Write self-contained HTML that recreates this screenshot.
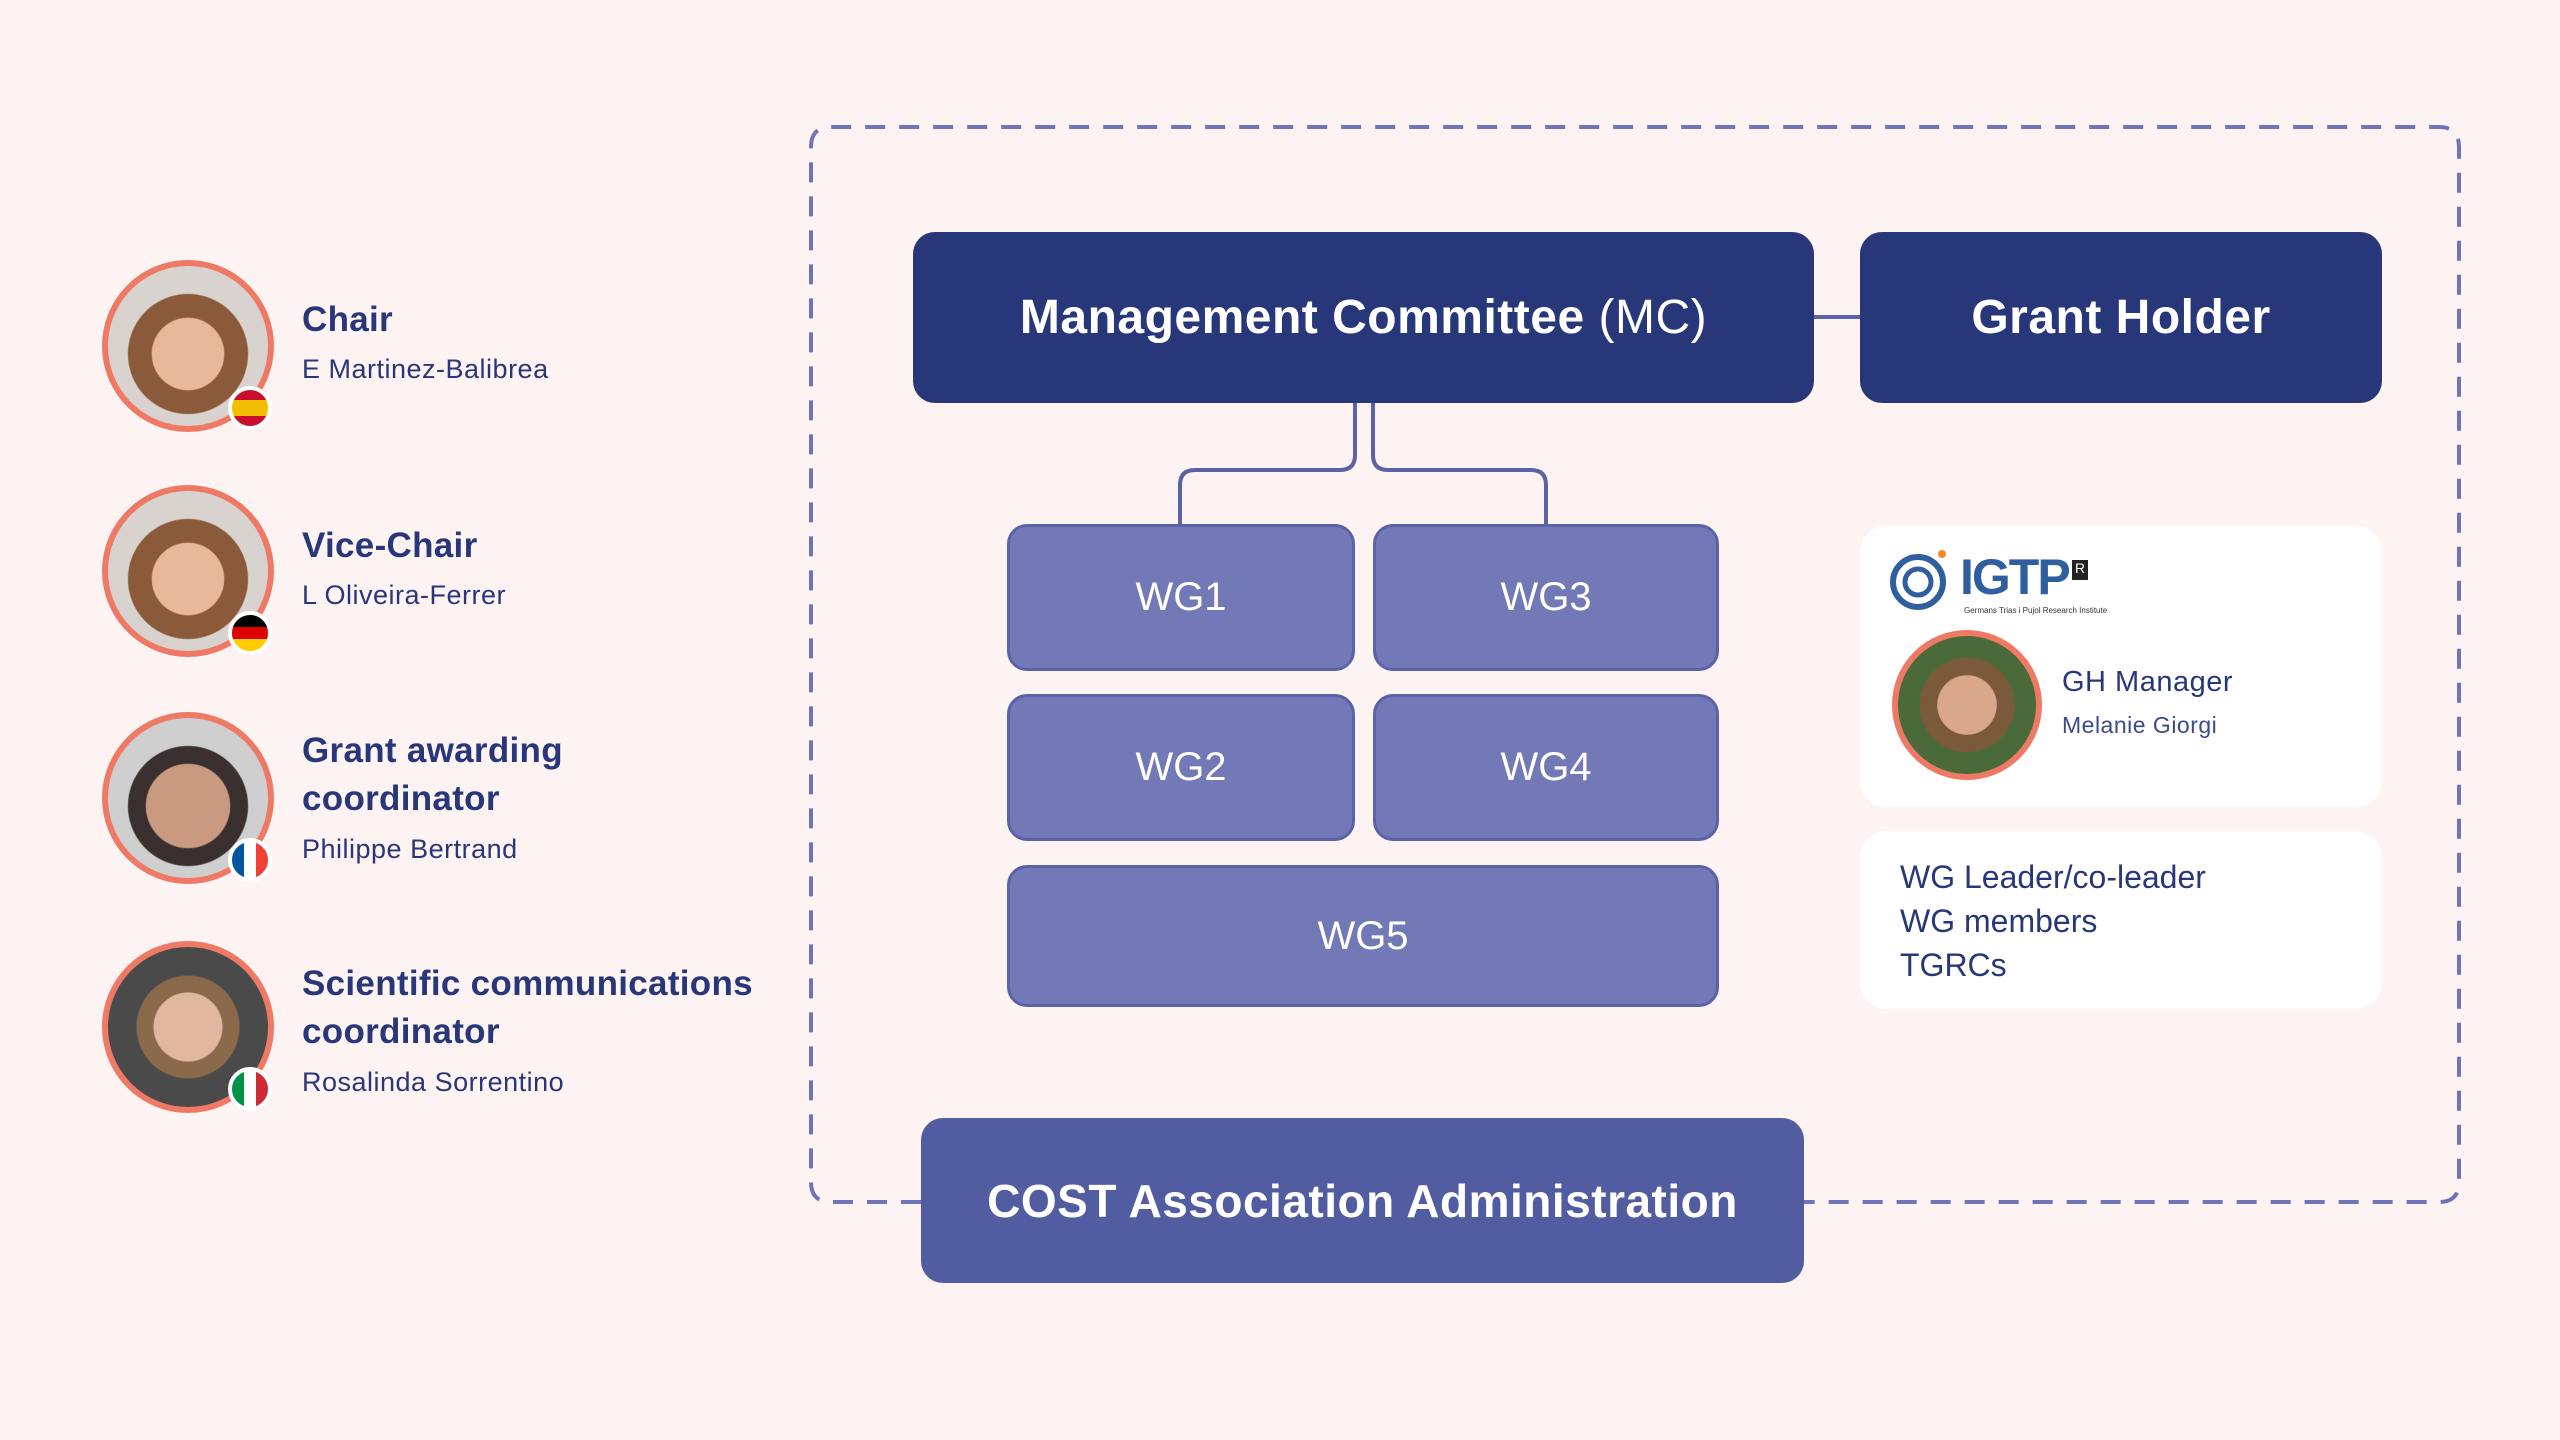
<!DOCTYPE html>
<html><head><meta charset="utf-8"><style>
*{margin:0;padding:0;box-sizing:border-box}
body{width:2560px;height:1440px;background:#fdf3f2;position:relative;overflow:hidden;font-family:"Liberation Sans",sans-serif;color:#283779}
.a{position:absolute}
.box{position:absolute;display:flex;align-items:center;justify-content:center;color:#fff;border-radius:22px}
.mc{background:#283779;font-size:48px;font-weight:bold;letter-spacing:.5px}
.wg{background:#7378b6;border:3px solid #5a62a8;font-size:40px;border-radius:20px}
.card{position:absolute;background:#fff;border-radius:26px}
.av{position:absolute;width:172px;height:172px;border-radius:50%;border:6px solid #ee7a66;overflow:hidden;background:radial-gradient(circle at 50% 55%,#e8b89a 0 30%,#8a5a3a 31% 50%,#d9d3cf 51%)}
.flag{position:absolute;width:44px;height:44px;border-radius:50%;border:4px solid #fff;overflow:hidden}
.t1{position:absolute;font-size:35px;font-weight:bold;line-height:48px;letter-spacing:.3px}
.t2{position:absolute;font-size:27px;letter-spacing:.5px}
</style></head><body>
<svg class="a" style="left:0;top:0" width="2560" height="1440">
<path d="M921 1202 H831 Q811 1202 811 1182 V147 Q811 127 831 127 H2439 Q2459 127 2459 147 V1182 Q2459 1202 2439 1202 H1804" fill="none" stroke="#6f74b8" stroke-width="4" stroke-dasharray="20 14"/>
<line x1="1814" y1="317" x2="1860" y2="317" stroke="#5a62a8" stroke-width="4"/>
<path d="M1355 403 V455 Q1355 470 1340 470 H1195 Q1180 470 1180 485 V524" fill="none" stroke="#5a62a8" stroke-width="4"/>
<path d="M1373 403 V455 Q1373 470 1388 470 H1531 Q1546 470 1546 485 V524" fill="none" stroke="#5a62a8" stroke-width="4"/>
</svg>
<div class="box mc" style="left:913px;top:232px;width:901px;height:171px">Management Committee <span style="font-weight:normal">&nbsp;(MC)</span></div>
<div class="box mc" style="left:1860px;top:232px;width:522px;height:171px">Grant Holder</div>
<div class="box wg" style="left:1007px;top:524px;width:348px;height:147px">WG1</div>
<div class="box wg" style="left:1373px;top:524px;width:346px;height:147px">WG3</div>
<div class="box wg" style="left:1007px;top:694px;width:348px;height:147px">WG2</div>
<div class="box wg" style="left:1373px;top:694px;width:346px;height:147px">WG4</div>
<div class="box wg" style="left:1007px;top:865px;width:712px;height:142px">WG5</div>
<div class="box mc" style="left:921px;top:1118px;width:883px;height:165px;background:#525ca0;font-size:46px">COST Association Administration</div>

<div class="card" style="left:1860px;top:526px;width:522px;height:281px">
 <svg class="a" style="left:30px;top:22px" width="60" height="62"><circle cx="28" cy="34" r="25" fill="none" stroke="#2f5f9e" stroke-width="6"/><circle cx="28" cy="34" r="13" fill="none" stroke="#2f5f9e" stroke-width="5"/><circle cx="52" cy="6" r="4" fill="#f08a2a"/></svg>
 <div class="a" style="left:100px;top:22px;font-size:50px;font-weight:bold;color:#2f5f9e;letter-spacing:-2px">IGTP</div>
 <div class="a" style="left:212px;top:34px;width:16px;height:20px;background:#222;color:#fff;font-size:14px;text-align:center">R</div>
 <div class="a" style="left:104px;top:80px;font-size:8px;color:#333">Germans Trias i Pujol Research Institute</div>
 <div class="av" style="left:32px;top:104px;width:150px;height:150px;background:radial-gradient(circle at 50% 50%,#d9a88a 0 30%,#7a5a3a 31% 48%,#4a6a3a 49%)"></div>
 <div class="t2" style="left:202px;top:140px;font-size:29px;color:#283779">GH Manager</div>
 <div class="t2" style="left:202px;top:186px;font-size:23px;color:#3a4a8a">Melanie Giorgi</div>
</div>
<div class="card" style="left:1860px;top:831px;width:522px;height:178px">
 <div class="a" style="left:40px;top:24px;font-size:32px;line-height:44px;color:#283779">WG Leader/co-leader<br>WG members<br>TGRCs</div>
</div>

<div class="av" style="left:102px;top:260px"></div>
<div class="flag" style="left:228px;top:386px;background:linear-gradient(#c8102e 0 28%,#f1bf00 28% 72%,#c8102e 72%)"></div>
<div class="t1" style="left:302px;top:296px">Chair</div>
<div class="t2" style="left:302px;top:354px">E Martinez-Balibrea</div>

<div class="av" style="left:102px;top:485px"></div>
<div class="flag" style="left:228px;top:611px;background:linear-gradient(#000 0 33%,#dd0000 33% 66%,#ffce00 66%)"></div>
<div class="t1" style="left:302px;top:522px">Vice-Chair</div>
<div class="t2" style="left:302px;top:580px">L Oliveira-Ferrer</div>

<div class="av" style="left:102px;top:712px;background:radial-gradient(circle at 50% 55%,#c99a80 0 35%,#3a3030 36% 50%,#cfcfcf 51%)"></div>
<div class="flag" style="left:228px;top:838px;background:linear-gradient(90deg,#0055a4 0 33%,#fff 33% 66%,#ef4135 66%)"></div>
<div class="t1" style="left:302px;top:727px">Grant awarding<br>coordinator</div>
<div class="t2" style="left:302px;top:834px">Philippe Bertrand</div>

<div class="av" style="left:102px;top:941px;background:radial-gradient(circle at 50% 50%,#e0b8a0 0 30%,#8a6a4a 31% 45%,#4a4a4a 46%)"></div>
<div class="flag" style="left:228px;top:1067px;background:linear-gradient(90deg,#009246 0 33%,#fff 33% 66%,#ce2b37 66%)"></div>
<div class="t1" style="left:302px;top:960px">Scientific communications<br>coordinator</div>
<div class="t2" style="left:302px;top:1067px">Rosalinda Sorrentino</div>
</body></html>
